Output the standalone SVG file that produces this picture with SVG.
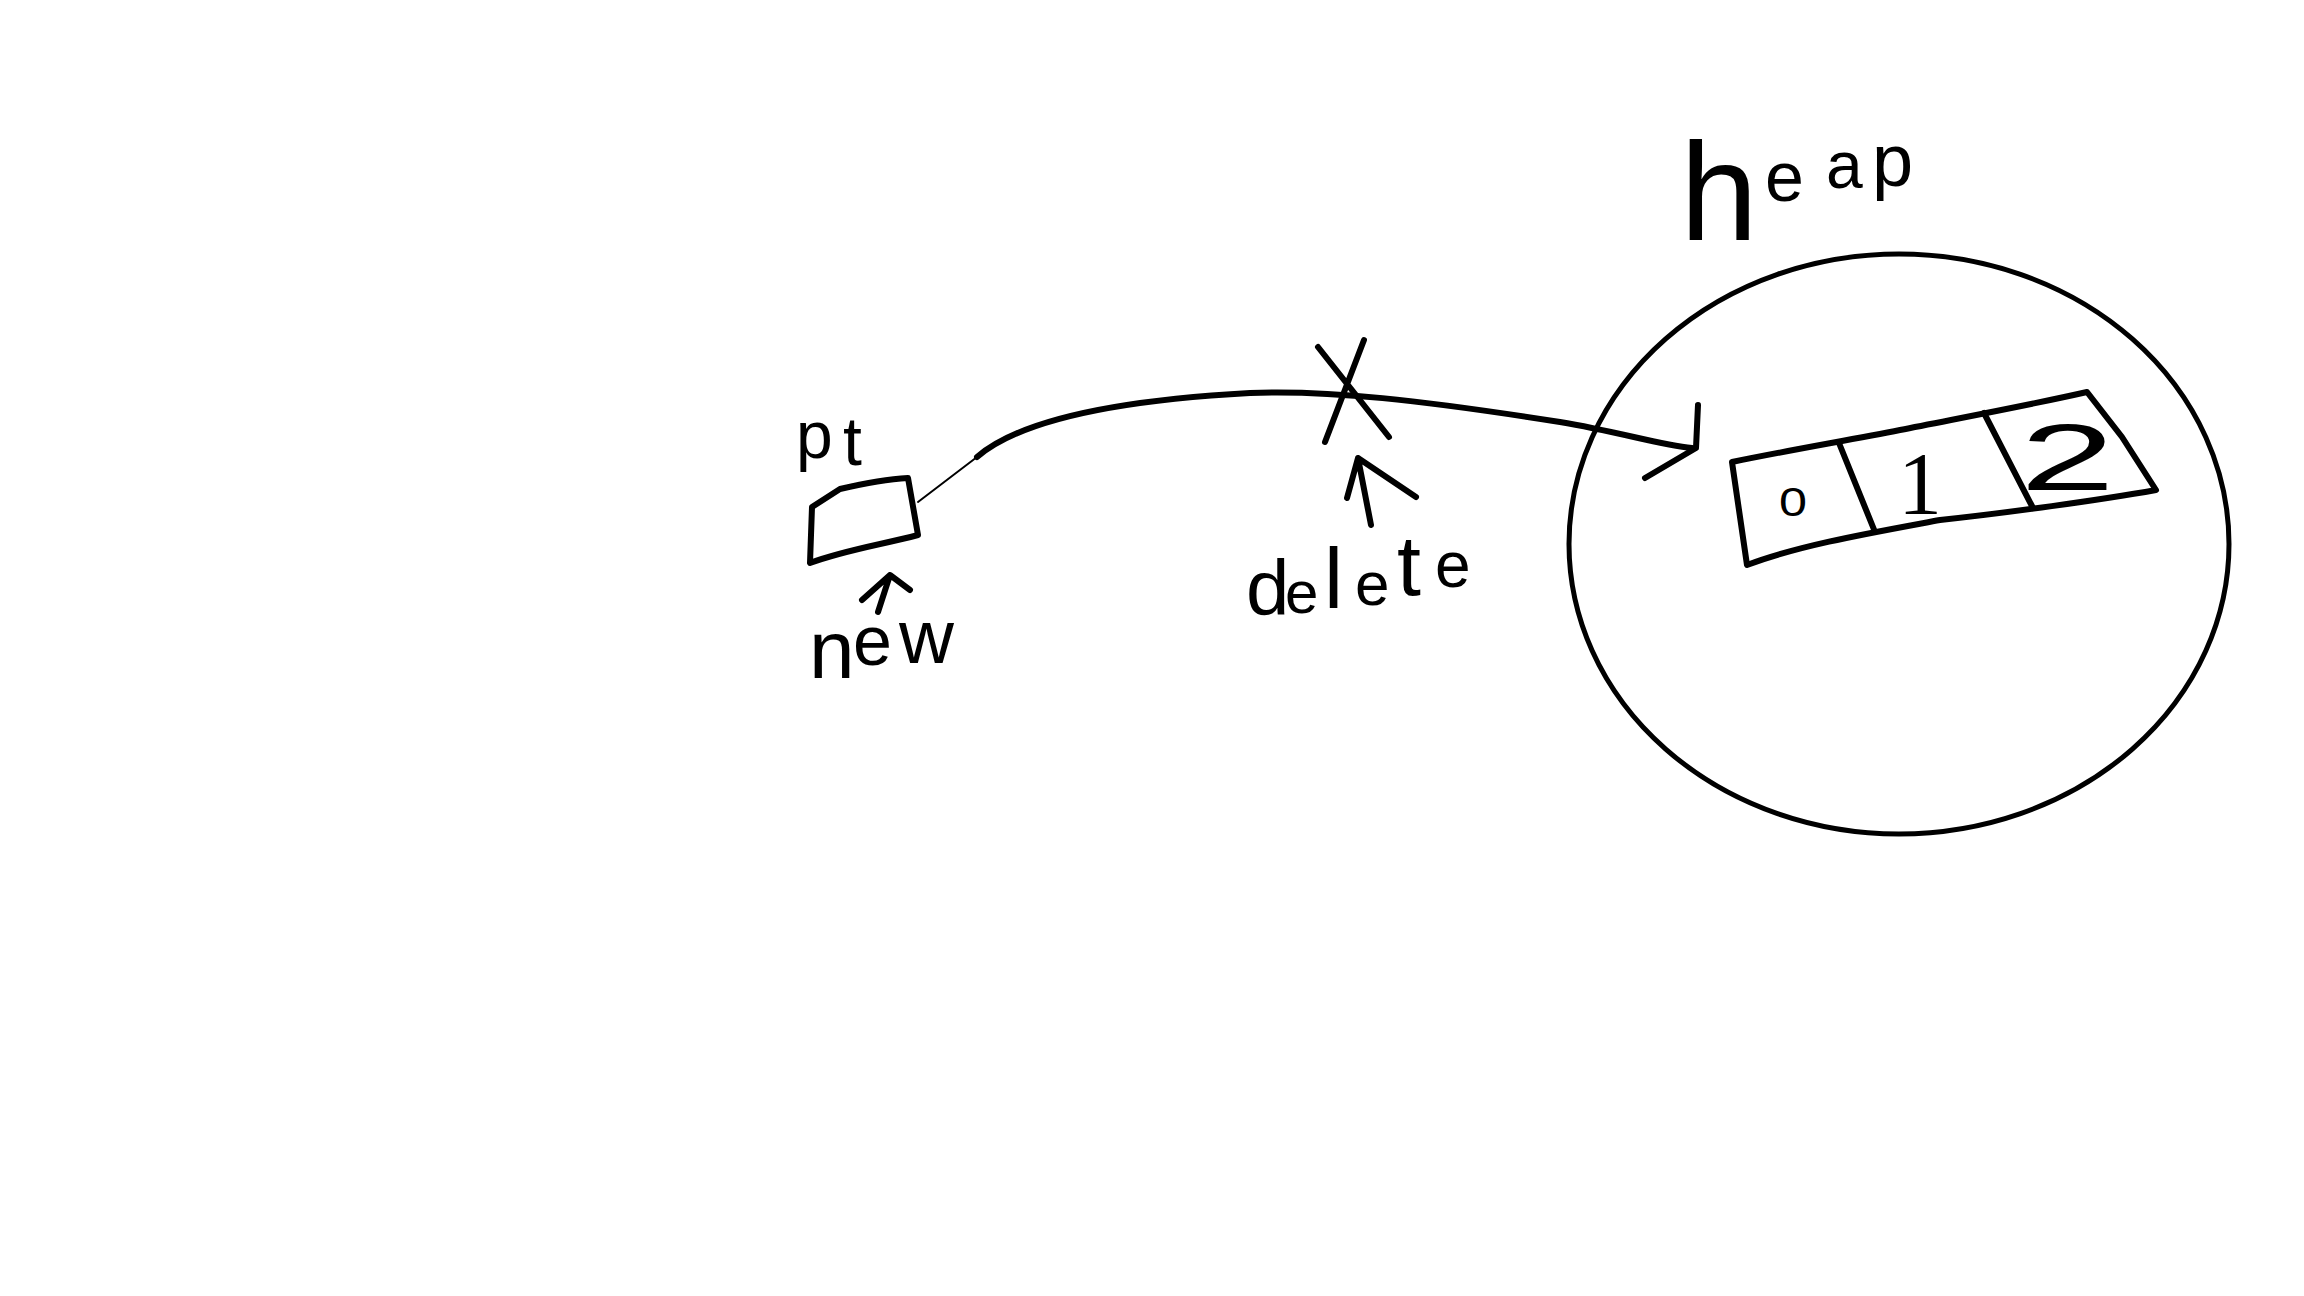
<svg xmlns="http://www.w3.org/2000/svg" width="2304" height="1296" viewBox="0 0 2304 1296">
<style>
.ink{fill:none;stroke:#000;stroke-width:6;stroke-linecap:round;stroke-linejoin:round}
.thin{fill:none;stroke:#000;stroke-width:2;stroke-linecap:round}
.hand{font-family:"Liberation Sans","DejaVu Sans",sans-serif;fill:#000}
</style>
<rect width="2304" height="1296" fill="#fff"/>
<g id="heap">
<ellipse cx="1899" cy="544" rx="330" ry="290" fill="none" stroke="#000" stroke-width="5"/>
<text class="hand"><tspan x="1680" y="240" font-size="140">h</tspan><tspan x="1765" y="201" font-size="70">e</tspan><tspan x="1826" y="188" font-size="66">a</tspan><tspan x="1872" y="186" font-size="74">p</tspan></text>
</g>
<g id="array">
<path class="ink" d="M1732,462 C1790,450 1850,440 1900,430 C1960,418 2030,405 2087,392 L2122,437 L2156,490 C2100,500 2006,513 1940,520 C1870,533 1800,545 1747,565 Z"/>
<path class="ink" d="M1839,443 L1875,532 M1984,413 L2033,508"/>
<text class="hand" x="1779" y="516" font-size="40" textLength="28" lengthAdjust="spacingAndGlyphs">0</text>
<text x="1898" y="513" font-size="88" font-family="Liberation Serif,serif">1</text>
<text class="hand" x="2020" y="490" font-size="95" textLength="95" lengthAdjust="spacingAndGlyphs">2</text>
</g>
<g id="pt">
<path class="ink" d="M810,563 L812,507 L840,489 C870,482 890,479 908,478 L918,535 C880,545 845,550 810,563 Z"/>
<text class="hand"><tspan x="796" y="458" font-size="66">p</tspan><tspan x="843" y="465" font-size="68">t</tspan></text>
</g>
<g id="new-label">
<text class="hand"><tspan x="809" y="678" font-size="82">n</tspan><tspan x="853" y="665" font-size="70">e</tspan><tspan x="899" y="663" font-size="76">w</tspan></text>
</g>
<g id="delete-label">
<text class="hand"><tspan x="1246" y="615" font-size="78">d</tspan><tspan x="1285" y="613" font-size="60">e</tspan><tspan x="1324" y="608" font-size="86">l</tspan><tspan x="1355" y="605" font-size="62">e</tspan><tspan x="1397" y="595" font-size="86">t</tspan><tspan x="1435" y="587" font-size="64">e</tspan></text>
</g>
<g id="connectors">
<path class="thin" d="M918,502 L977,457"/>
<path class="ink" d="M977,457 C1020,420 1120,400 1250,393 C1330,390 1420,400 1560,422 C1620,432 1660,445 1692,448"/>
<path class="ink" d="M1698,405 L1696,448 L1645,478"/>
<path class="ink" d="M1318,347 L1389,437 M1364,340 L1325,442"/>
<path class="ink" d="M1371,525 L1358,458 M1347,498 L1358,458 L1416,497"/>
<path class="ink" d="M878,612 L890,575 M862,600 L890,575 L910,590"/>
</g>
</svg>
